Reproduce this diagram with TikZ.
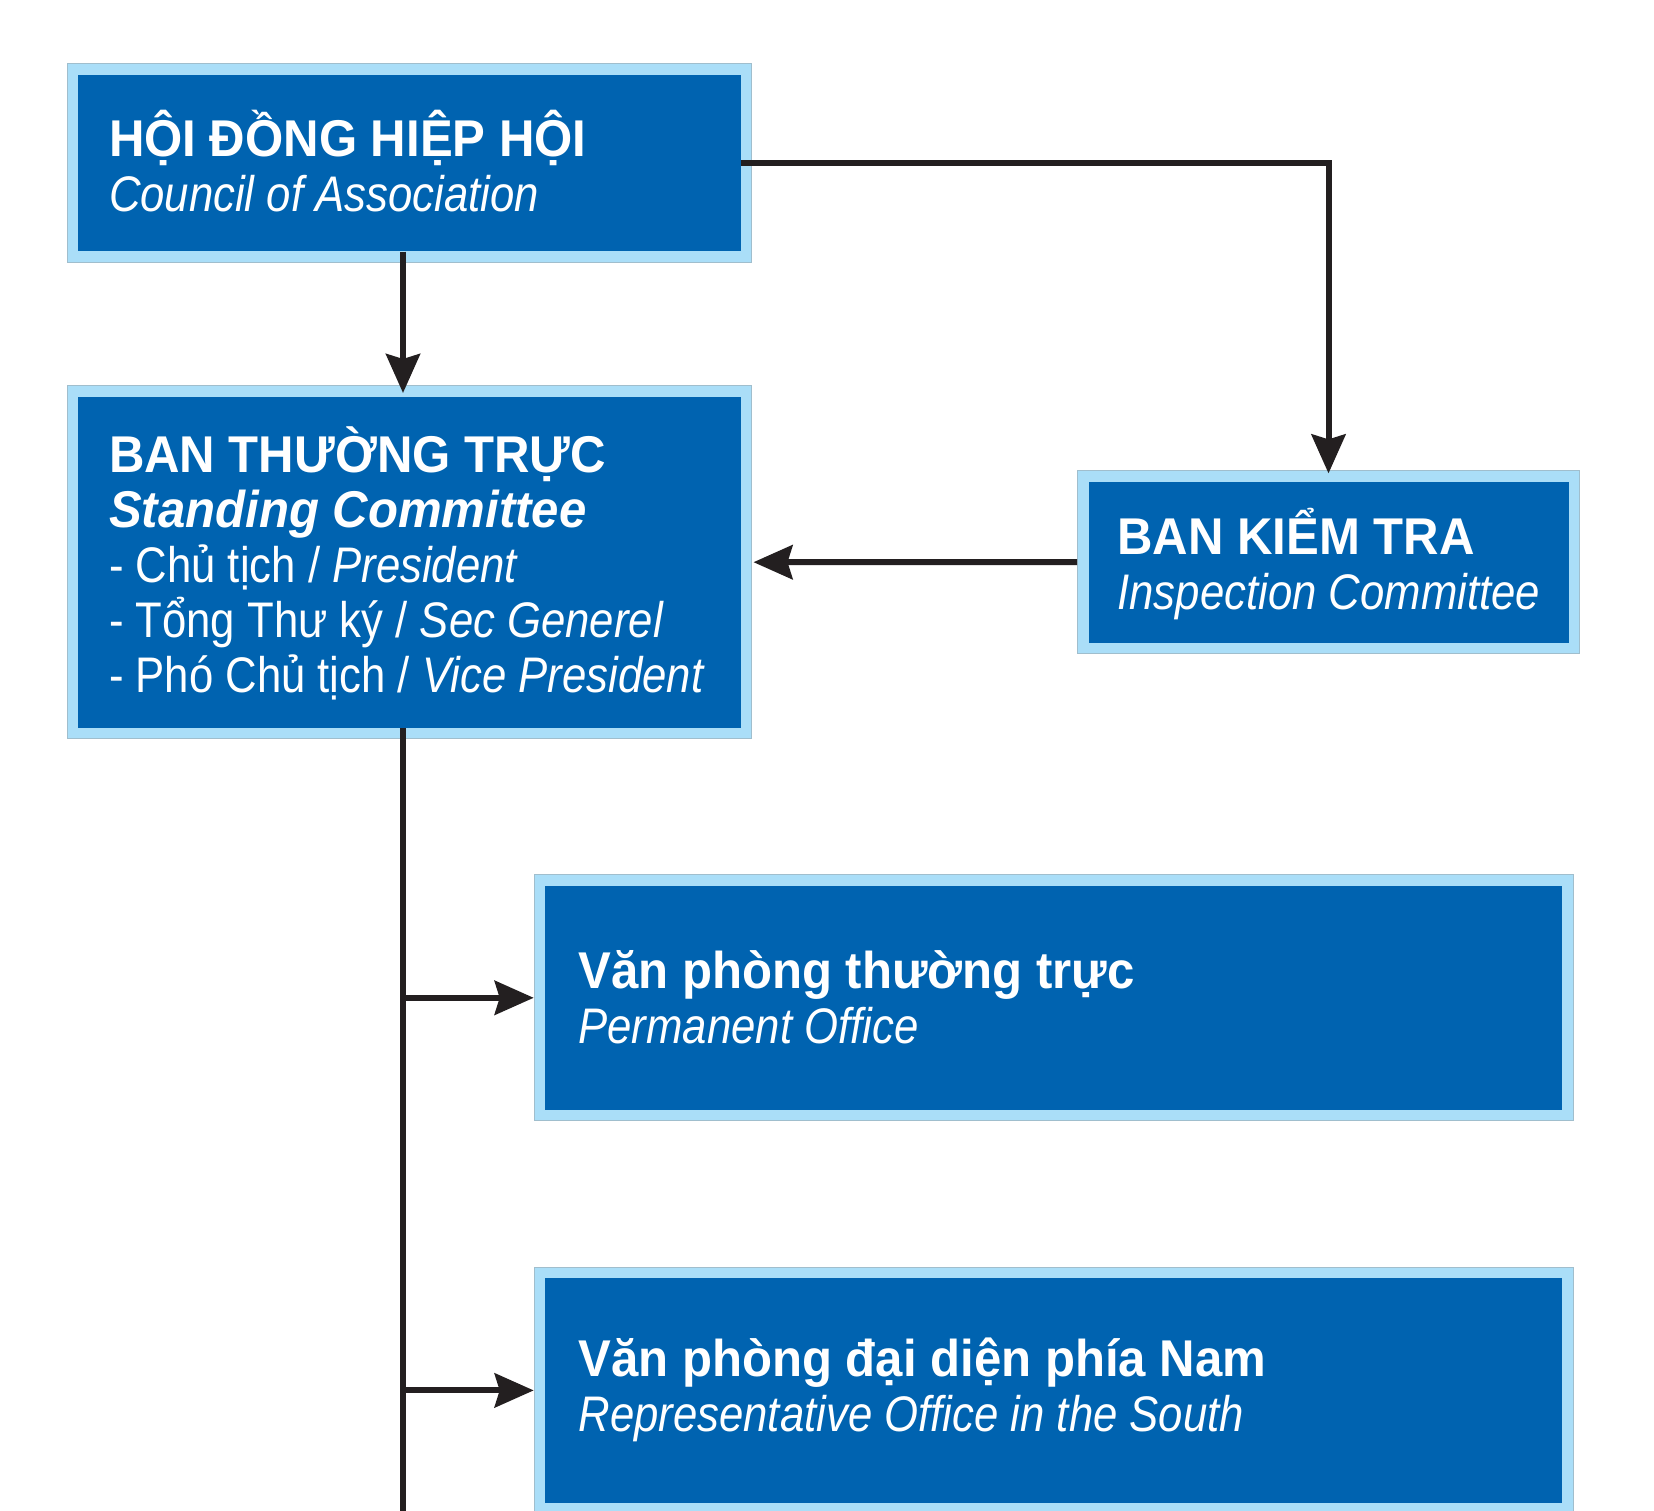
\documentclass[tikz,border=0pt]{standalone}
\usepackage{fontspec}
\setmainfont{Liberation Sans}
\newfontfamily\headfam[FakeStretch=0.95]{Liberation Sans}
\newfontfamily\bodyfam[FakeStretch=0.874]{Liberation Sans}
\usetikzlibrary{arrows.meta,calc}
\definecolor{boxblue}{RGB}{0,99,176}
\definecolor{rimblue}{RGB}{170,222,248}
\definecolor{rimline}{RGB}{160,190,205}
\definecolor{linkcol}{RGB}{35,31,32}
\newcommand\headB{\headfam\bfseries\upshape\fontsize{51.7pt}{55pt}\selectfont}
\newcommand\headBI{\headfam\bfseries\itshape\fontsize{51.7pt}{55pt}\selectfont}
\newcommand\bodyR{\bodyfam\mdseries\upshape\fontsize{50pt}{55pt}\selectfont}
\newcommand\bodyI{\bodyfam\mdseries\itshape\fontsize{50pt}{55pt}\selectfont}
% #1 box width, #2 left padding, #3 lines
\newcommand\boxlines[3]{\parbox[t]{#1}{\raggedright\leftskip=#2\relax
  \rightskip=0pt plus 1fil\relax\spaceskip=0pt\xspaceskip=0pt
  \lineskiplimit=-\maxdimen\lineskip=0pt\relax #3\par}}
\tikzset{
  orgbox/.style n args={2}{rectangle, anchor=north west, fill=rimblue,
    draw=rimline, line width=1pt, inner sep=0pt,
    text height=#1, text depth=#2, text=white,
    path picture={\fill[boxblue]
      ([shift={(11,11)}]path picture bounding box.north west) rectangle
      ([shift={(-11,-11)}]path picture bounding box.south east);}},
  link/.style={draw=linkcol, line width=6pt},
  arr/.style={link, -{Stealth[length=39pt, width=34pt, inset=5pt]}}
}
\begin{document}
\begin{tikzpicture}[x=1pt, y=-1pt]
\useasboundingbox (0,0) rectangle (1654,1511);
\clip (0,0) rectangle (1654,1511);
\fill[white] (0,0) rectangle (1654,1511);

\node[orgbox={92.7pt}{105.6pt}] (council) at (66.5,63.3)
  {\boxlines{684.5pt}{42pt}{\headB HỘI ĐỒNG HIỆP HỘI\\
   \bodyI Council of Association}};

\node[orgbox={86.5pt}{266.9pt}] (standing) at (66.5,385)
  {\boxlines{684.5pt}{42pt}{\headB BAN THƯỜNG TRỰC\\
   \headBI Standing Committee\\
   \bodyR - Chủ tịch / \bodyI President\\
   \bodyR - Tổng Thư ký / \bodyI Sec Generel\\
   \bodyR - Phó Chủ tịch / \bodyI Vice President}};

\node[orgbox={83.4pt}{99.2pt}] (inspect) at (1077,470.4)
  {\boxlines{502pt}{40pt}{\headB BAN KIỂM TRA\\
   \bodyI Inspection Committee}};

\node[orgbox={113.9pt}{131.9pt}] (office) at (533.7,874.4)
  {\boxlines{1039pt}{44.3pt}{\headB Văn phòng thường trực\\
   \bodyI Permanent Office}};

\node[orgbox={108.7pt}{137.5pt}] (south) at (533.7,1266.8)
  {\boxlines{1039pt}{44.3pt}{\headB Văn phòng đại diện phía Nam\\
   \bodyI Representative Office in the South}};

\coordinate (tx) at (403,0);
\coordinate (trunkend) at (403,1530);

\draw[arr] ($(council.south -| tx)+(0,-11)$) -- ($(standing.north -| tx)+(0,8)$);
\draw[arr] ($(council.east)+(-11,0)$) -| ($(inspect.north)+(0,3)$);
\draw[arr] (inspect.west) -- ($(standing.east)+(1.5,0)$);
\draw[link] ($(standing.south -| tx)+(0,-11)$) -- (trunkend);
\draw[arr] (tx |- office.west) -- (office.west);
\draw[arr] (tx |- south.west) -- (south.west);
\end{tikzpicture}
\end{document}
